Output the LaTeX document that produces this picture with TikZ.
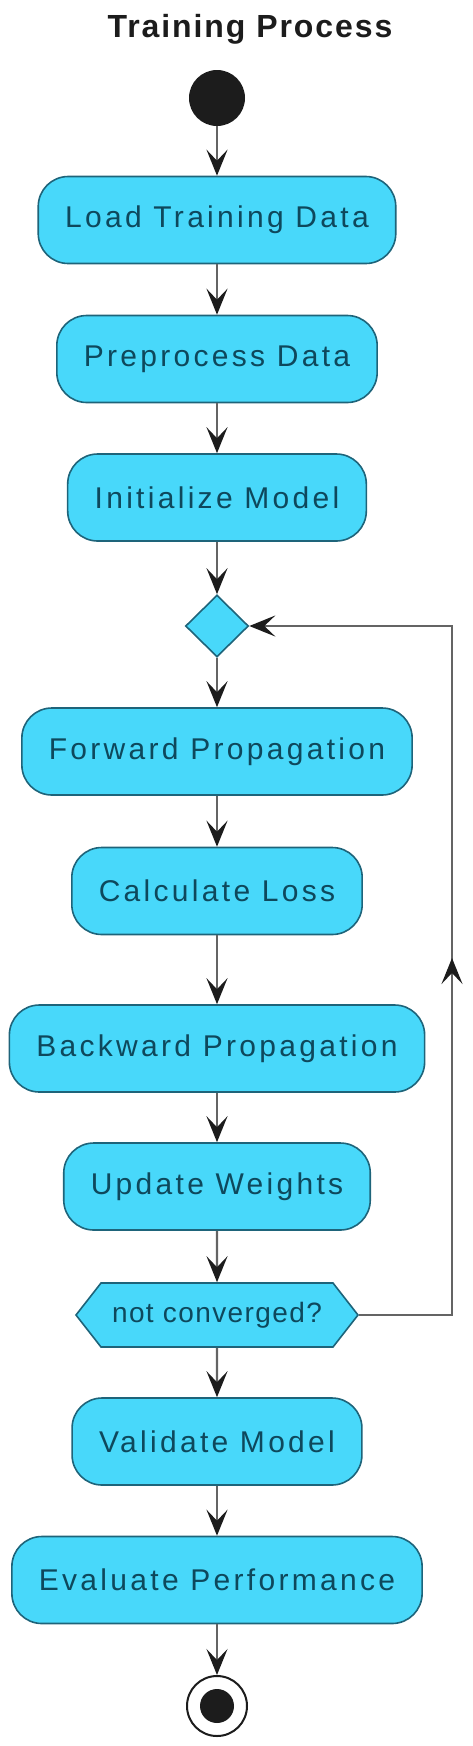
\documentclass[tikz,border=0pt]{standalone}
\usepackage{fontspec}
\setmainfont{Liberation Sans}
\newfontfamily\boxfont[LetterSpace=11]{Liberation Sans}
\newfontfamily\hexfont[LetterSpace=5]{Liberation Sans}
\newfontfamily\titlefont[LetterSpace=6]{Liberation Sans}
\usetikzlibrary{shapes.geometric,shapes.symbols,arrows.meta,decorations.markings}

\definecolor{actfill}{RGB}{72,216,250}
\definecolor{actdraw}{RGB}{30,100,122}
\definecolor{acttext}{RGB}{14,72,92}
\definecolor{linegrey}{RGB}{100,100,100}
\definecolor{tipdark}{RGB}{28,28,28}

\tikzset{
  act/.style={rectangle, rounded corners=30pt, fill=actfill, draw=actdraw,
    line width=1.6pt, minimum height=87pt, inner xsep=27pt,
    text=acttext, font=\boxfont\fontsize{30}{35}\selectfont},
  umltip/.tip={Stealth[length=26pt,width=21pt,inset=11pt,color=tipdark]},
  flow/.style={draw=linegrey, line width=2.4pt, -{umltip}}
}

\begin{document}
\begin{tikzpicture}[x=1pt,y=-1pt]
  \useasboundingbox (0,0) rectangle (473,1746);

  \node[anchor=base, font=\titlefont\bfseries\fontsize{32}{37}\selectfont, text=tipdark] (0) at (250,37) {Training Process};

  \node[circle, fill=tipdark, minimum size=56pt, inner sep=0pt] (1) at (217,98) {};

  \begin{scope}[every node/.style={act}]
    \node (2)  at (217,220)    {Load Training Data};
    \node (3)  at (217,359)    {Preprocess Data};
    \node (4)  at (217,497.5)  {Initialize Model};
    \node (6)  at (217,751.5)  {Forward Propagation};
    \node (7)  at (217,891)    {Calculate Loss};
    \node (8)  at (217,1048.5) {Backward Propagation};
    \node (9)  at (217,1186.5) {Update Weights};
    \node (11) at (217,1441.5) {Validate Model};
    \node (12) at (217,1580)   {Evaluate Performance};
  \end{scope}

  \node[diamond, fill=actfill, draw=actdraw, line width=1.6pt, minimum width=63pt,
    minimum height=62pt, inner sep=0pt] (5) at (217,626) {};

  \node[signal, signal to=east and west, signal pointer angle=104, fill=actfill,
    draw=actdraw, line width=1.6pt, minimum width=282pt, minimum height=64pt,
    inner xsep=4pt, text=acttext, font=\hexfont\fontsize{28}{32}\selectfont] (10) at (217,1315) {not converged?};

  \node[circle, draw=tipdark, line width=2pt, fill=white, minimum size=60pt, inner sep=0pt] (13) at (217,1706) {};
  \node[circle, fill=tipdark, minimum size=34pt, inner sep=0pt] (14) at (13) {};

  \coordinate (r) at (452,1000);

  \begin{scope}[every edge/.style={flow}]
    \path (1)  edge (2);
    \path (2)  edge (3);
    \path (3)  edge (4);
    \path (4)  edge (5);
    \path (5)  edge (6);
    \path (6)  edge (7);
    \path (7)  edge (8);
    \path (8)  edge (9);
    \path (9)  edge (10);
    \path (10) edge (11);
    \path (11) edge (12);
    \path (12) edge (13);
  \end{scope}

  % loop back to the merge
  \draw[flow, postaction={decorate}, decoration={markings,
      mark=at position 450pt with {\arrow{umltip}}}]
    (10.east) -| (r) |- (5.east);

\end{tikzpicture}
\end{document}
